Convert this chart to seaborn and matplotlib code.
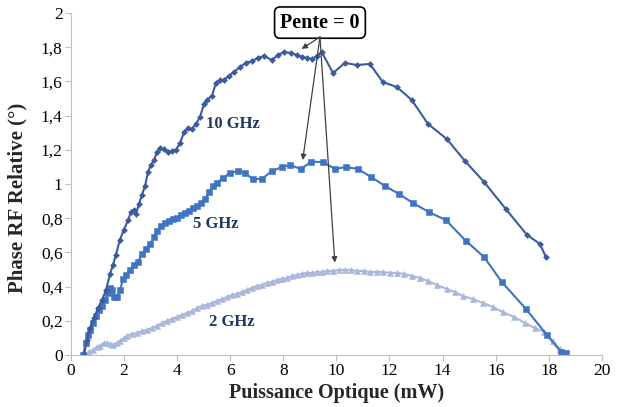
import pandas as pd
import matplotlib
matplotlib.use("Agg")
import matplotlib.pyplot as plt
import seaborn as sns

# 10 GHz
x_10 = [0.49, 0.60, 0.72, 0.87, 1.02, 1.17, 1.32, 1.47, 1.58, 1.69, 1.84, 1.99, 2.15, 2.26,
        2.37, 2.45, 2.56, 2.67, 2.79, 2.90, 3.01, 3.13, 3.24, 3.35, 3.50, 3.65, 3.80, 3.95,
        4.11, 4.26, 4.41, 4.56, 4.71, 4.86, 5.01, 5.12, 5.31, 5.46, 5.61, 5.76, 5.95, 6.14,
        6.37, 6.59, 6.82, 7.04, 7.27, 7.57, 7.80, 8.02, 8.29, 8.51, 8.70, 8.89, 9.08, 9.27,
        9.45, 9.87, 10.32, 10.77, 11.26, 11.75, 12.28, 12.84, 13.45, 14.16, 14.84, 15.56,
        16.38, 17.18, 17.67, 17.89]
y_10 = [0.0, 0.088, 0.158, 0.216, 0.275, 0.322, 0.38, 0.474, 0.526, 0.585, 0.673, 0.731,
        0.789, 0.836, 0.848, 0.825, 0.883, 0.936, 0.988, 1.07, 1.111, 1.14, 1.187, 1.21,
        1.205, 1.187, 1.193, 1.199, 1.24, 1.304, 1.327, 1.322, 1.351, 1.392, 1.468, 1.491,
        1.515, 1.591, 1.608, 1.608, 1.632, 1.655, 1.684, 1.708, 1.719, 1.737, 1.749, 1.725,
        1.754, 1.772, 1.766, 1.754, 1.743, 1.737, 1.731, 1.749, 1.772, 1.649, 1.708, 1.696,
        1.702, 1.596, 1.567, 1.491, 1.351, 1.263, 1.135, 1.012, 0.854, 0.702, 0.649, 0.573]

# 5 GHz
x_5 = [0.45, 0.56, 0.64, 0.72, 0.83, 0.94, 1.05, 1.17, 1.28, 1.39, 1.47, 1.54, 1.62, 1.73,
       1.85, 1.96, 2.07, 2.22, 2.37, 2.52, 2.67, 2.82, 2.98, 3.13, 3.24, 3.39, 3.54, 3.69,
       3.84, 3.99, 4.14, 4.29, 4.44, 4.60, 4.75, 4.90, 5.05, 5.20, 5.35, 5.50, 5.72, 5.99,
       6.29, 6.55, 6.85, 7.19, 7.57, 7.95, 8.25, 8.66, 9.04, 9.49, 9.94, 10.36, 10.81,
       11.30, 11.83, 12.35, 12.88, 13.48, 14.12, 14.88, 15.56, 16.23, 17.14, 17.93, 18.46,
       18.64]
y_5 = [0.0, 0.07, 0.117, 0.146, 0.187, 0.228, 0.263, 0.287, 0.322, 0.363, 0.392, 0.38,
       0.339, 0.339, 0.38, 0.444, 0.468, 0.497, 0.526, 0.544, 0.591, 0.62, 0.649, 0.69,
       0.725, 0.754, 0.772, 0.784, 0.795, 0.801, 0.819, 0.83, 0.842, 0.86, 0.871, 0.889,
       0.912, 0.953, 0.988, 1.006, 1.035, 1.064, 1.076, 1.064, 1.029, 1.029, 1.076, 1.099,
       1.111, 1.088, 1.129, 1.129, 1.088, 1.099, 1.088, 1.041, 0.988, 0.942, 0.889, 0.836,
       0.789, 0.667, 0.573, 0.427, 0.269, 0.117, 0.018, 0.012]

# 2 GHz
x_2 = [0.53, 0.68, 0.83, 0.98, 1.09, 1.24, 1.36, 1.47, 1.58, 1.73, 1.85, 2.00, 2.11, 2.30,
       2.49, 2.67, 2.86, 3.05, 3.24, 3.43, 3.62, 3.80, 3.99, 4.18, 4.37, 4.56, 4.75, 4.93,
       5.12, 5.31, 5.50, 5.69, 5.88, 6.06, 6.25, 6.44, 6.63, 6.82, 7.01, 7.19, 7.38, 7.57,
       7.76, 7.95, 8.14, 8.32, 8.51, 8.70, 8.89, 9.08, 9.27, 9.45, 9.64, 9.87, 10.09, 10.32,
       10.55, 10.77, 11.04, 11.26, 11.53, 11.75, 12.02, 12.28, 12.54, 12.84, 13.15, 13.45,
       13.79, 14.16, 14.46, 14.76, 15.14, 15.52, 15.89, 16.27, 16.69, 17.10, 17.48, 17.82,
       18.15, 18.42]
y_2 = [0.0, 0.018, 0.029, 0.047, 0.053, 0.07, 0.07, 0.064, 0.058, 0.07, 0.082, 0.099, 0.111,
       0.123, 0.129, 0.14, 0.146, 0.158, 0.17, 0.187, 0.199, 0.211, 0.222, 0.234, 0.246,
       0.257, 0.275, 0.287, 0.292, 0.304, 0.316, 0.327, 0.339, 0.351, 0.357, 0.368, 0.38,
       0.392, 0.404, 0.409, 0.421, 0.427, 0.439, 0.444, 0.45, 0.462, 0.468, 0.474, 0.48,
       0.48, 0.485, 0.485, 0.491, 0.491, 0.497, 0.497, 0.497, 0.491, 0.491, 0.485, 0.485,
       0.485, 0.48, 0.48, 0.474, 0.462, 0.45, 0.433, 0.409, 0.386, 0.368, 0.345, 0.327,
       0.304, 0.281, 0.251, 0.222, 0.187, 0.158, 0.135, 0.082, 0.035]

x_ticks = list(range(0, 21, 2))
y_ticks = [0, 0.2, 0.4, 0.6, 0.8, 1.0, 1.2, 1.4, 1.6, 1.8, 2.0]
y_tick_labels = ["0", "0,2", "0,4", "0,6", "0,8", "1", "1,2", "1,4", "1,6", "1,8", "2"]

sns.set_theme(style="white")
serif = ["Liberation Serif", "DejaVu Serif"]
plt.rcParams["font.family"] = serif

fig = plt.figure(figsize=(6.23, 4.07), dpi=100)
ax = fig.add_axes([0.114, 0.128, 0.852, 0.840])

series = [
    (x_2, y_2, "#A9B7DA", "^", 4.5),
    (x_5, y_5, "#3F74C2", "s", 4.5),
    (x_10, y_10, "#3A5C9E", "D", 3.0),
]
for xs, ys, col, mk, ms in series:
    df = pd.DataFrame({"x": xs, "y": ys})
    sns.lineplot(data=df, x="x", y="y", sort=False, color=col, marker=mk,
                 markersize=ms, markeredgewidth=0.4, markeredgecolor=col,
                 linewidth=1.5, ax=ax)

ax.set_xlim(0, 20)
ax.set_ylim(0, 2)
ax.set_xticks(x_ticks)
ax.set_xticklabels([str(v) for v in x_ticks])
ax.set_yticks(y_ticks)
ax.set_yticklabels(y_tick_labels)
ax.tick_params(axis="both", labelsize=12.5, colors="#BFBFBF", labelcolor="black",
               length=4, width=0.8, direction="out", bottom=True, left=True, pad=2)
for lab in ax.get_xticklabels() + ax.get_yticklabels():
    lab.set_fontfamily(serif)

for s in ["top", "right"]:
    ax.spines[s].set_visible(False)
for s in ["left", "bottom"]:
    ax.spines[s].set_color("#BFBFBF")
    ax.spines[s].set_linewidth(0.8)

ax.set_xlabel("Puissance Optique (mW)", fontsize=14.5, fontweight="bold", labelpad=3)
ax.set_ylabel("Phase RF Relative (°)", fontsize=15, fontweight="bold")
ax.yaxis.set_label_coords(-0.082, 0.46)

lab_col = "#1F3864"
ax.text(6.1, 1.35, "10 GHz", fontsize=12, fontweight="bold", color=lab_col,
        ha="center", va="center")
ax.text(5.46, 0.766, "5 GHz", fontsize=12, fontweight="bold", color=lab_col,
        ha="center", va="center")
ax.text(6.06, 0.193, "2 GHz", fontsize=12, fontweight="bold", color=lab_col,
        ha="center", va="center")

ax.text(9.38, 1.944, "Pente = 0", fontsize=14.5, fontweight="bold", color="black",
        ha="center", va="center", clip_on=False,
        bbox=dict(boxstyle="round,pad=0.28", fc="white", ec="black", lw=1.2))

for tx, ty in [(8.69, 1.79), (8.73, 1.14), (9.94, 0.54)]:
    ax.annotate("", xy=(tx, ty), xytext=(9.38, 1.86),
                arrowprops=dict(arrowstyle="-|>", color="#404040", lw=0.9,
                                mutation_scale=8, shrinkA=0, shrinkB=0))

fig.savefig("out.png", dpi=100)
plt.close(fig)
